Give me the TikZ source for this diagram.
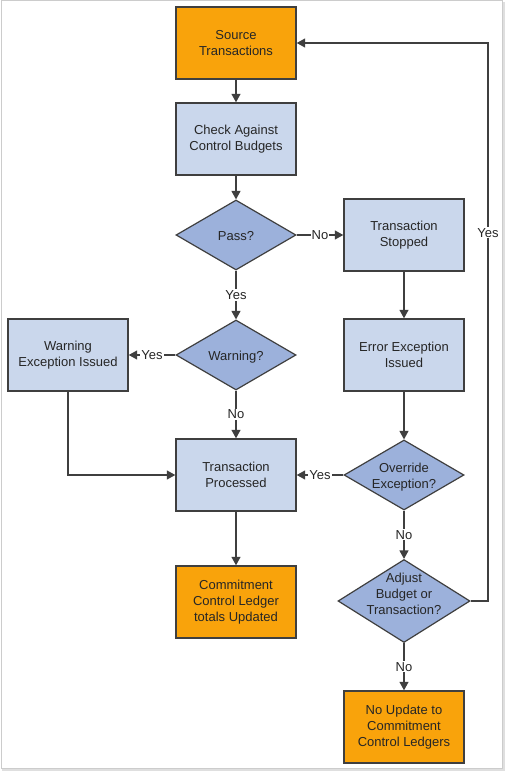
\documentclass[tikz,border=0pt]{standalone}
\usepackage{fontspec}
\setmainfont{Liberation Sans}
\usepackage{tikz}
\usetikzlibrary{shapes.geometric, arrows.meta, positioning, calc}

\definecolor{flowOrange}{HTML}{F9A30B}
\definecolor{flowBox}{HTML}{CAD7EC}
\definecolor{flowDiam}{HTML}{9CB1DB}
\definecolor{flowLine}{HTML}{3F3F3F}

% text inside a decision, kept from growing the diamond
\newcommand{\dtext}[2][-5pt]{\smash{\raisebox{#1}{\makebox[0pt]{\begin{tabular}{@{}c@{}}#2\end{tabular}}}}}

\begin{document}
\begin{tikzpicture}[x=1pt, y=-1pt,
    every node/.style={font=\fontsize{13}{16}\selectfont, text=black!85},
    proc/.style={draw=flowLine, line width=1.4pt, fill=flowBox, minimum width=120, minimum height=72, align=center, inner sep=0pt},
    term/.style={proc, fill=flowOrange},
    decide/.style={diamond, draw=flowLine, line width=1.2pt, fill=flowDiam, minimum width=120, minimum height=70, inner sep=0pt},
    link/.style={draw=flowLine, line width=1.3pt, -{Triangle[length=8.5pt,width=9pt]}},
    lbl/.style={fill=white, inner sep=1pt}]
    % frame
    \useasboundingbox (0,0) rectangle (507,773);
    \draw[gray!25, line width=2pt] (3,3) rectangle (504,770);
    \draw[gray!40, fill=white, line width=0.8pt] (1,0.5) rectangle (502,768);

    % nodes
    \node[term] (src) at (236,43) {Source\\Transactions};
    \node[proc] (check) at (236,139) {Check Against\\Control Budgets};
    \node[decide] (pass) at (236,235) {\dtext{Pass?}};
    \node[proc] (stop) at (404,235) {Transaction\\Stopped};
    \node[decide] (warn) at (236,355) {\dtext{Warning?}};
    \node[proc] (warnexc) at (68,355) {Warning\\Exception Issued};
    \node[proc] (errexc) at (404,355) {Error Exception\\Issued};
    \node[proc] (done) at (236,475) {Transaction\\Processed};
    \node[decide] (override) at (404,475) {\dtext{Override\\Exception?}};
    \node[term] (updated) at (236,602) {Commitment\\Control Ledger\\totals Updated};
    \node[decide, minimum width=132, minimum height=83] (adjust) at (404,601) {\dtext[3pt]{Adjust\\Budget or\\Transaction?}};
    \node[term] (noupd) at (404,727) {No Update to\\Commitment\\Control Ledgers};
    \coordinate (loop) at (488,43);

    % connectors
    \draw[link] (src) -- (check);
    \draw[link] (check) -- (pass);
    \draw[link] (pass) -- node[lbl] {No} (stop);
    \draw[link] (pass) -- node[lbl] {Yes} (warn);
    \draw[link] (stop) -- (errexc);
    \draw[link] (warn) -- node[lbl] {Yes} (warnexc);
    \draw[link] (warn) -- node[lbl] {No} (done);
    \draw[link] (warnexc.south) |- (done.west);
    \draw[link] (errexc) -- (override);
    \draw[link] (override) -- node[lbl] {Yes} (done);
    \draw[link] (done) -- (updated);
    \draw[link] (override) -- node[lbl] {No} (adjust);
    \draw[link] (adjust) -- node[lbl] {No} (noupd);
    \draw[link] (adjust.east) -| node[lbl, pos=0.83] {Yes} (loop) -- (src.east);
\end{tikzpicture}
\end{document}
